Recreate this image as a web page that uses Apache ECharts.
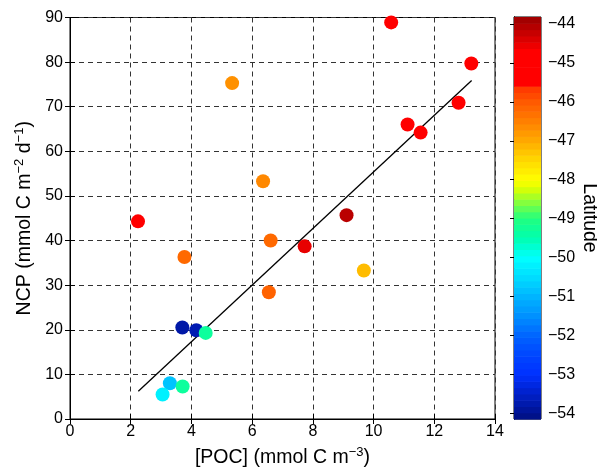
<!DOCTYPE html>
<html>
<head>
<meta charset="utf-8">
<script src="https://cdn.jsdelivr.net/npm/echarts@6/dist/echarts.min.js"></script>
<style>html,body{margin:0;padding:0;background:#fff}#c{width:597px;height:468px}</style>
</head>
<body>
<div id="c"></div>
<script>
// ---- data ----
const pocX = [2.24, 5.34, 6.36, 6.61, 3.77, 6.55, 3.70, 4.16, 4.47, 3.29, 3.05, 3.71, 7.73, 9.68, 9.11, 10.58, 13.22, 12.80, 11.12, 11.55];
const ncpY = [44.3, 75.3, 53.3, 40.0, 36.3, 28.4, 20.5, 19.9, 19.3, 8.0, 5.5, 7.3, 38.7, 33.3, 45.7, 88.9, 79.7, 70.9, 66.0, 64.2];
const latitude = [-45.2, -46.7, -46.6, -46.2, -46.2, -46.1, -53.8, -53.7, -49.3, -50.8, -50.2, -49.3, -44.5, -47.2, -44.1, -45.0, -45.0, -45.2, -45.2, -45.1];
const fitX = [2.25, 13.23];
const fitY = [6.2, 75.9];
const xTicks = [0, 2, 4, 6, 8, 10, 12, 14];
const yTicks = [0, 10, 20, 30, 40, 50, 60, 70, 80, 90];
const latTicks = [-54, -53, -52, -51, -50, -49, -48, -47, -46, -45, -44];
const latMin = -54.15, latMax = -43.82;

// ---- colormap (style) ----
const cmapStops = [
  [-54.15, [0, 15, 128]], [-53.5, [0, 32, 200]], [-53.0, [0, 48, 255]], [-52.5, [0, 70, 255]],
  [-52.0, [0, 100, 255]], [-51.5, [0, 144, 255]], [-51.0, [0, 180, 255]], [-50.5, [0, 220, 255]],
  [-50.0, [0, 255, 255]], [-49.5, [0, 255, 176]], [-49.0, [32, 255, 128]], [-48.6, [128, 255, 64]],
  [-48.2, [224, 255, 0]], [-48.0, [255, 255, 0]], [-47.5, [255, 216, 0]], [-47.0, [255, 170, 0]],
  [-46.5, [255, 128, 0]], [-46.0, [255, 90, 0]], [-45.65, [255, 56, 0]], [-45.6, [255, 0, 0]],
  [-44.7, [255, 0, 0]], [-44.3, [208, 0, 0]], [-43.82, [154, 0, 0]]
];
function cmap(v) {
  if (v <= cmapStops[0][0]) return rgb(cmapStops[0][1]);
  for (let i = 1; i < cmapStops.length; i++) {
    const a = cmapStops[i - 1], b = cmapStops[i];
    if (v <= b[0]) {
      const t = (v - a[0]) / (b[0] - a[0]);
      return rgb(a[1].map((c, k) => c + (b[1][k] - c) * t));
    }
  }
  return rgb(cmapStops[cmapStops.length - 1][1]);
}
function rgb(c) { return 'rgb(' + c.map(x => Math.round(x)).join(',') + ')'; }

const nBands = 64;
const bands = [];
for (let i = 0; i < nBands; i++) {
  const lo = latMin + (latMax - latMin) * i / nBands;
  const hi = latMin + (latMax - latMin) * (i + 1) / nBands;
  bands.push([lo, hi]);
}

const FONT = 'Liberation Sans';
const scatterData = pocX.map((x, i) => ({ value: [x, ncpY[i]], itemStyle: { color: cmap(latitude[i]) } }));
const fitData = fitX.map((x, i) => [x, fitY[i]]);

const gridLine = { show: true, lineStyle: { color: '#333', width: 1, type: [5, 4] } };
const tickIn = { show: true, inside: true, length: 5, lineStyle: { color: '#000', width: 1 } };
const supRich = { sup: { fontSize: 13, fontFamily: FONT, color: '#000', padding: [0, 0, 10, 0] }, n: { fontSize: 19.5, fontFamily: FONT, color: '#000' } };

const chart = echarts.init(document.getElementById('c'), null, { renderer: 'canvas' });
chart.setOption({
  animation: false,
  backgroundColor: '#fff',
  grid: [
    { left: 70, top: 17.5, right: 102, bottom: 49, show: true, borderColor: '#000', borderWidth: 1, backgroundColor: 'transparent', containLabel: false, outerBoundsMode: 'none' },
    { left: 514, top: 17, width: 27, bottom: 49, show: true, borderColor: '#000', borderWidth: 1, backgroundColor: 'transparent', containLabel: false, outerBoundsMode: 'none' }
  ],
  xAxis: [
    { type: 'value', gridIndex: 0, min: 0, max: 14, interval: 2,
      axisLine: { show: true, onZero: false, lineStyle: { color: '#000' } }, axisTick: tickIn,
      axisLabel: { color: '#000', fontSize: 16, fontFamily: FONT, margin: 5, customValues: xTicks },
      splitLine: gridLine,
      name: '{n|[POC] (mmol C m}{sup|−3}{n|)}', nameLocation: 'middle', nameGap: 27,
      nameTextStyle: { rich: supRich } },
    { type: 'value', gridIndex: 0, min: 0, max: 14, interval: 2, position: 'top',
      axisLine: { show: true, lineStyle: { color: '#000' } }, axisTick: tickIn,
      axisLabel: { show: false }, splitLine: { show: false } },
    { type: 'value', gridIndex: 1, min: 0, max: 1, show: false }
  ],
  yAxis: [
    { type: 'value', gridIndex: 0, min: 0, max: 90, interval: 10,
      axisLine: { show: true, onZero: false, lineStyle: { color: '#000' } }, axisTick: tickIn,
      axisLabel: { color: '#000', fontSize: 16, fontFamily: FONT, margin: 7, customValues: yTicks },
      splitLine: gridLine,
      name: '{n|NCP (mmol C m}{sup|−2}{n| d}{sup|−1}{n|)}', nameLocation: 'middle', nameGap: 31, nameRotate: 90,
      nameTextStyle: { rich: supRich } },
    { type: 'value', gridIndex: 0, min: 0, max: 90, interval: 10, position: 'right',
      axisLine: { show: true, lineStyle: { color: '#000' } }, axisTick: tickIn,
      axisLabel: { show: false }, splitLine: { show: false } },
    { type: 'value', gridIndex: 1, min: latMin, max: latMax, position: 'right',
      axisLine: { show: true, lineStyle: { color: '#000' } },
      axisTick: Object.assign({}, tickIn, { customValues: latTicks, length: 4 }),
      axisLabel: { color: '#000', fontSize: 16, fontFamily: FONT, margin: 7, customValues: latTicks,
        formatter: v => String(v).replace('-', '−') },
      splitLine: { show: false },
      name: 'Latitude', nameLocation: 'middle', nameRotate: -90, nameGap: 37,
      nameTextStyle: { color: '#000', fontSize: 19.5, fontFamily: FONT } },
    { type: 'value', gridIndex: 1, min: latMin, max: latMax, position: 'left',
      axisLine: { show: true, lineStyle: { color: '#000' } },
      axisTick: Object.assign({}, tickIn, { customValues: latTicks, length: 4 }),
      axisLabel: { show: false }, splitLine: { show: false } }
  ],
  series: [
    { type: 'line', xAxisIndex: 0, yAxisIndex: 0, data: fitData, symbol: 'none',
      lineStyle: { color: '#000', width: 1.3 }, z: 3 },
    { type: 'scatter', xAxisIndex: 0, yAxisIndex: 0, data: scatterData, symbolSize: 14, z: 4,
      itemStyle: { opacity: 1 } },
    { type: 'custom', xAxisIndex: 2, yAxisIndex: 2, data: bands, z: 1,
      renderItem: function (params, api) {
        const lo = api.value(0), hi = api.value(1);
        const p0 = api.coord([0, hi]);
        const p1 = api.coord([1, lo]);
        return { type: 'rect', shape: { x: p0[0], y: p0[1], width: p1[0] - p0[0], height: p1[1] - p0[1] + 0.6 },
          style: { fill: cmap((lo + hi) / 2) } };
      } }
  ]
});
</script>
</body>
</html>
